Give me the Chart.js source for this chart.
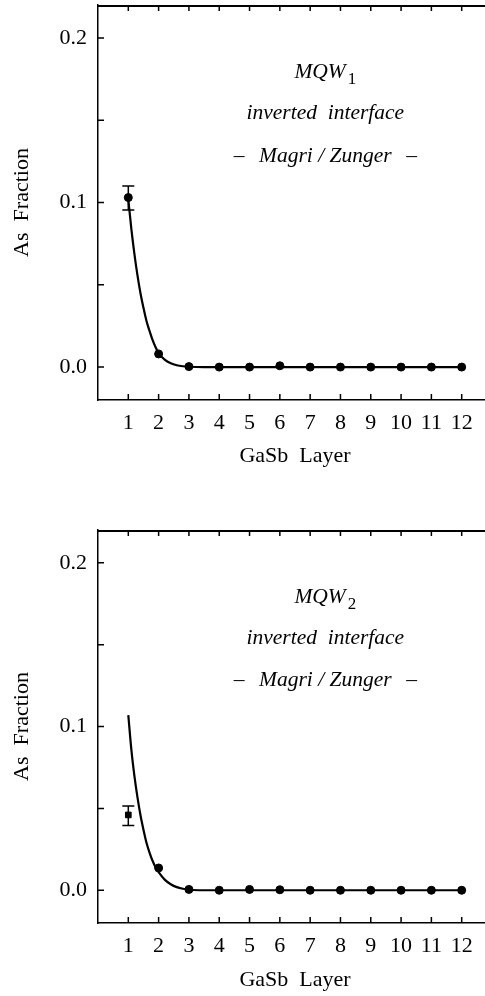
<!DOCTYPE html>
<html>
<head>
<meta charset="utf-8">
<script src="https://cdn.jsdelivr.net/npm/chart.js@4"></script>
<style>
html, body { margin: 0; padding: 0; background: #fff; overflow: hidden; }
#wrap { position: relative; width: 485px; height: 996px; overflow: hidden; }
.panel { position: absolute; left: 0; width: 500px; }
</style>
</head>
<body>
<div id="wrap">
  <div class="panel" style="top:0;height:490px"><canvas id="mqw1"></canvas></div>
  <div class="panel" style="top:525px;height:471px"><canvas id="mqw2"></canvas></div>
</div>
<script>
// layers and tick values
const layers = [1, 2, 3, 4, 5, 6, 7, 8, 9, 10, 11, 12];
const xTickValues = [1, 2, 3, 4, 5, 6, 7, 8, 9, 10, 11, 12];
const yTickValues = [0, 0.05, 0.1, 0.15, 0.2];

// MQW1 measured As fraction
const mqw1Points = [0.103, 0.008, 0.0003, 0, 0, 0.0008, 0, 0, 0, 0, 0, 0];
const mqw1ErrUp = [0.007, 0, 0, 0, 0, 0, 0, 0, 0, 0, 0, 0];
const mqw1ErrDown = [0.0075, 0, 0, 0, 0, 0, 0, 0, 0, 0, 0, 0];
// MQW1 Magri/Zunger curve
const mqw1CurveX = [1.0, 1.1, 1.2, 1.3, 1.4, 1.5, 1.6, 1.7, 1.8, 1.9, 2.0, 2.2, 2.4, 2.6, 2.8, 3.0, 3.5, 4, 12];
const mqw1CurveY = [0.102, 0.084, 0.069, 0.056, 0.045, 0.036, 0.028, 0.022, 0.0165, 0.012, 0.0085, 0.0045, 0.0023, 0.0011, 0.0005, 0.0002, 0, 0, 0];

// MQW2 measured As fraction
const mqw2Points = [0.046, 0.0136, 0.0005, 0, 0.0005, 0.0003, 0, 0, 0, 0, 0, 0];
const mqw2ErrUp = [0.0055, 0, 0, 0, 0, 0, 0, 0, 0, 0, 0, 0];
const mqw2ErrDown = [0.0065, 0, 0, 0, 0, 0, 0, 0, 0, 0, 0, 0];
// MQW2 Magri/Zunger curve
const mqw2CurveX = [1.0, 1.1, 1.2, 1.3, 1.4, 1.5, 1.6, 1.7, 1.8, 1.9, 2.0, 2.2, 2.4, 2.6, 2.8, 3.0, 3.5, 4, 12];
const mqw2CurveY = [0.107, 0.086, 0.070, 0.057, 0.046, 0.037, 0.029, 0.023, 0.018, 0.014, 0.011, 0.0065, 0.0037, 0.0019, 0.0009, 0.0003, 0, 0, 0];

const SERIF = "'Liberation Serif', 'DejaVu Serif', serif";

function makePanel(id, points, errUp, errDown, curveX, curveY, sub, xAxisHeight, titlePadBottom, firstStyle) {
    const errorBars = {
        id: 'errorBars',
        afterDatasetsDraw(chart) {
            const {ctx, scales: {x, y}} = chart;
            ctx.save();
            ctx.strokeStyle = '#000';
            ctx.lineWidth = 1.5;
            layers.forEach((l, i) => {
                if (!errUp[i] && !errDown[i]) return;
                const px = x.getPixelForValue(l);
                const top = y.getPixelForValue(points[i] + errUp[i]);
                const bot = y.getPixelForValue(points[i] - errDown[i]);
                ctx.beginPath();
                ctx.moveTo(px, top); ctx.lineTo(px, bot);
                ctx.moveTo(px - 6, top); ctx.lineTo(px + 6, top);
                ctx.moveTo(px - 6, bot); ctx.lineTo(px + 6, bot);
                ctx.stroke();
            });
            ctx.restore();
        }
    };

    // frame on top + inward ticks + text block
    const frame = {
        id: 'frame',
        afterDraw(chart) {
            const {ctx, chartArea: a, scales: {x, y}} = chart;
            ctx.save();
            ctx.strokeStyle = '#000';
            ctx.lineWidth = 2;
            ctx.beginPath();
            ctx.moveTo(a.left, a.top + 1); ctx.lineTo(a.right + 10, a.top + 1);
            ctx.stroke();
            ctx.lineWidth = 1.5;
            ctx.beginPath();
            x.ticks.forEach((t, i) => {
                const px = x.getPixelForTick(i);
                ctx.moveTo(px, a.bottom); ctx.lineTo(px, a.bottom - 6);
                ctx.moveTo(px, a.top); ctx.lineTo(px, a.top + 6);
            });
            y.ticks.forEach((t, i) => {
                const py = y.getPixelForTick(i);
                ctx.moveTo(a.left, py); ctx.lineTo(a.left + 6, py);
            });
            ctx.stroke();

            ctx.fillStyle = '#000';
            ctx.textBaseline = 'middle';
            const cx = x.getPixelForValue(7.5);
            ctx.font = 'italic 21.5px ' + SERIF;
            const w1 = ctx.measureText('MQW').width;
            ctx.font = '17px ' + SERIF;
            const w2 = ctx.measureText(sub).width;
            const my = y.getPixelForValue(0.179);
            const sx = cx - (w1 + w2 + 2) / 2;
            ctx.textAlign = 'left';
            ctx.font = 'italic 21.5px ' + SERIF;
            ctx.fillText('MQW', sx, my);
            ctx.font = '17px ' + SERIF;
            ctx.fillText(sub, sx + w1 + 2, my + 7);
            ctx.textAlign = 'center';
            ctx.font = 'italic 21.5px ' + SERIF;
            ctx.fillText('inverted  interface', cx, y.getPixelForValue(0.154));
            const ly = y.getPixelForValue(0.128);
            const half = ctx.measureText('Magri / Zunger').width / 2;
            ctx.fillText('Magri / Zunger', cx, ly);
            ctx.fillText('\u2013', cx - half - 20, ly);
            ctx.fillText('\u2013', cx + half + 20, ly);
            ctx.restore();
        }
    };

    const styles = layers.map((l, i) => (i === 0 ? firstStyle : 'circle'));

    new Chart(document.getElementById(id), {
        type: 'scatter',
        data: {
            datasets: [
                {
                    label: 'Magri / Zunger',
                    data: curveX.map((v, i) => ({x: v, y: curveY[i]})),
                    showLine: true,
                    borderColor: '#000',
                    borderWidth: 2.2,
                    pointRadius: 0,
                    cubicInterpolationMode: 'monotone'
                },
                {
                    label: 'measured',
                    data: layers.map((l, i) => ({x: l, y: points[i]})),
                    backgroundColor: '#000',
                    borderColor: '#000',
                    pointRadius: 4,
                    pointStyle: styles
                }
            ]
        },
        options: {
            responsive: true,
            maintainAspectRatio: false,
            animation: false,
            layout: { padding: { top: 5, right: 8, left: 0, bottom: 0 } },
            plugins: {
                legend: { display: false },
                tooltip: { enabled: false }
            },
            scales: {
                x: {
                    type: 'linear',
                    min: 0,
                    max: 13,
                    afterBuildTicks(scale) { scale.ticks = xTickValues.map(v => ({value: v})); },
                    afterFit(scale) { scale.height = xAxisHeight; scale.paddingLeft = 0; scale.paddingRight = 0; },
                    grid: { display: false, drawTicks: false },
                    border: { display: true, color: '#000', width: 1.5 },
                    ticks: { color: '#000', padding: 10, maxRotation: 0, autoSkip: false, font: { family: SERIF, size: 22 } },
                    title: { display: true, text: 'GaSb  Layer', color: '#000', padding: { top: 0, bottom: titlePadBottom }, font: { family: SERIF, size: 22 } }
                },
                y: {
                    min: -0.02,
                    max: 0.22,
                    afterBuildTicks(scale) { scale.ticks = yTickValues.map(v => ({value: v})); },
                    afterFit(scale) { scale.width = 98; scale.paddingTop = 0; scale.paddingBottom = 0; },
                    grid: { display: false, drawTicks: false },
                    border: { display: true, color: '#000', width: 1.5 },
                    ticks: {
                        color: '#000',
                        padding: 11,
                        font: { family: SERIF, size: 22 },
                        callback: v => (Math.abs(v * 10 - Math.round(v * 10)) < 1e-6 ? v.toFixed(1) : '')
                    },
                    title: { display: true, text: 'As  Fraction', color: '#000', padding: { top: 9, bottom: 0 }, font: { family: SERIF, size: 22 } }
                }
            }
        },
        plugins: [errorBars, frame]
    });
}

makePanel('mqw1', mqw1Points, mqw1ErrUp, mqw1ErrDown, mqw1CurveX, mqw1CurveY, '1', 90, 21, 'circle');
makePanel('mqw2', mqw2Points, mqw2ErrUp, mqw2ErrDown, mqw2CurveX, mqw2CurveY, '2', 73, 3, 'rect');
</script>
</body>
</html>
